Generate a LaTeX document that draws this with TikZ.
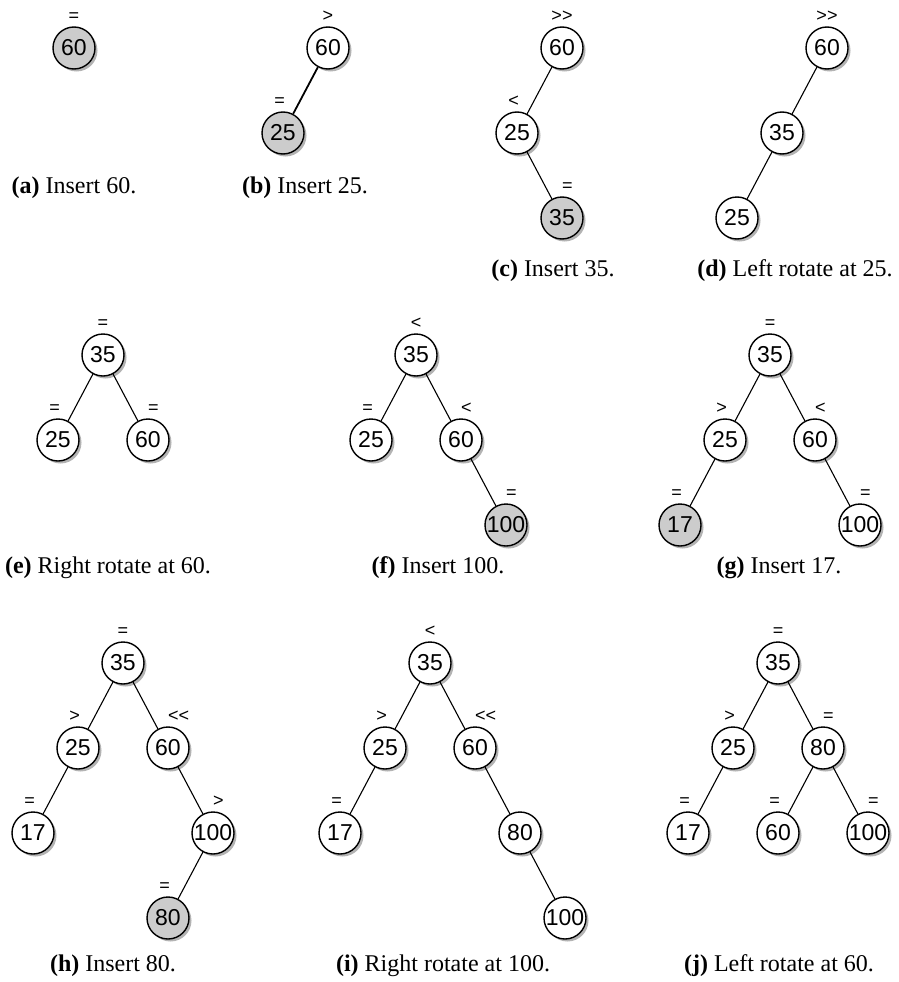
\documentclass[tikz,border=0pt]{standalone}
\usepackage{fontspec}
\setmainfont{Liberation Serif}
\setsansfont{Liberation Sans}
\usetikzlibrary{positioning}
\usetikzlibrary{shadows}

\tikzset{
  bnode/.style={circle, draw, line width=1.4pt, fill=white, minimum size=42pt, inner sep=0pt,
    font=\fontsize{23}{23}\sffamily,
    drop shadow={shadow xshift=2.5pt, shadow yshift=-2.5pt, opacity=0.6}},
  newnode/.style={bnode, fill=gray!40},
  link/.style={line width=1.1pt},
  bal/.style={inner sep=0pt, font=\fontsize{18}{18}\sffamily},
  balroot/.style={bal, anchor=base},
  balleft/.style={bal, anchor=base east},
  balright/.style={bal, anchor=base west},
  subcap/.style={inner sep=0pt, font=\fontsize{24}{24}\selectfont}
}
\newcommand{\gtgt}{>\kern0pt>}
\newcommand{\ltlt}{<\kern0pt<}

\begin{document}
\begin{tikzpicture}[x=1pt, y=-1pt, on grid]
  \def\dy{85pt}
  \def\dx{45pt}
  \useasboundingbox (0,0) rectangle (899,982);

  % (a)
  \node[newnode] (a60) at (74,48) {60};
  \node[balroot] (a60b) at ([yshift=5pt]a60.north) {=};
  \node[subcap] (capa) at (74,188) {\textbf{(a)} Insert 60.};

  % (b)
  \node[bnode] (b60) at (328,48) {60};
  \node[newnode, below left=\dy and \dx of b60] (b25) {25};
  \draw[link, line width=1.8pt] (b60) -- (b25);
  \node[balroot] (b60b) at ([yshift=5pt]b60.north) {>};
  \node[balleft] (b25b) at ([xshift=2pt,yshift=5pt]b25.north) {=};
  \node[subcap] (capb) at (305,188) {\textbf{(b)} Insert 25.};

  % (c)
  \node[bnode] (c60) at (562,48) {60};
  \node[bnode, below left=\dy and \dx of c60] (c25) {25};
  \node[newnode, below right=\dy and \dx of c25] (c35) {35};
  \draw[link] (c60) -- (c25);
  \draw[link] (c25) -- (c35);
  \node[balroot] (c60b) at ([yshift=5pt]c60.north) {\gtgt};
  \node[balleft] (c25b) at ([xshift=2pt,yshift=5pt]c25.north) {<};
  \node[balright] (c35b) at ([yshift=5pt]c35.north) {=};
  \node[subcap] (capc) at (553,271) {\textbf{(c)} Insert 35.};

  % (d)
  \node[bnode] (d60) at (827,48) {60};
  \node[bnode, below left=\dy and \dx of d60] (d35) {35};
  \node[bnode, below left=\dy and \dx of d35] (d25) {25};
  \draw[link] (d60) -- (d35);
  \draw[link] (d35) -- (d25);
  \node[balroot] (d60b) at ([yshift=5pt]d60.north) {\gtgt};
  \node[subcap] (capd) at (795,271) {\textbf{(d)} Left rotate at 25.};

  % (e)
  \node[bnode] (e35) at (103,355) {35};
  \node[bnode, below left=\dy and \dx of e35] (e25) {25};
  \node[bnode, below right=\dy and \dx of e35] (e60) {60};
  \draw[link] (e35) -- (e25);
  \draw[link] (e35) -- (e60);
  \node[balroot] (e35b) at ([yshift=5pt]e35.north) {=};
  \node[balleft] (e25b) at ([xshift=2pt,yshift=5pt]e25.north) {=};
  \node[balright] (e60b) at ([yshift=5pt]e60.north) {=};
  \node[subcap] (cape) at (108,568) {\textbf{(e)} Right rotate at 60.};

  % (f)
  \node[bnode] (f35) at (416,355) {35};
  \node[bnode, below left=\dy and \dx of f35] (f25) {25};
  \node[bnode, below right=\dy and \dx of f35] (f60) {60};
  \node[newnode, below right=\dy and \dx of f60] (f100) {100};
  \draw[link] (f35) -- (f25);
  \draw[link] (f35) -- (f60);
  \draw[link] (f60) -- (f100);
  \node[balroot] (f35b) at ([yshift=5pt]f35.north) {<};
  \node[balleft] (f25b) at ([xshift=2pt,yshift=5pt]f25.north) {=};
  \node[balright] (f60b) at ([yshift=5pt]f60.north) {<};
  \node[balright] (f100b) at ([yshift=5pt]f100.north) {=};
  \node[subcap] (capf) at (438,568) {\textbf{(f)} Insert 100.};

  % (g)
  \node[bnode] (g35) at (770,355) {35};
  \node[bnode, below left=\dy and \dx of g35] (g25) {25};
  \node[bnode, below right=\dy and \dx of g35] (g60) {60};
  \node[newnode, below left=\dy and \dx of g25] (g17) {17};
  \node[bnode, below right=\dy and \dx of g60] (g100) {100};
  \draw[link] (g35) -- (g25);
  \draw[link] (g35) -- (g60);
  \draw[link] (g25) -- (g17);
  \draw[link] (g60) -- (g100);
  \node[balroot] (g35b) at ([yshift=5pt]g35.north) {=};
  \node[balleft] (g25b) at ([xshift=2pt,yshift=5pt]g25.north) {>};
  \node[balright] (g60b) at ([yshift=5pt]g60.north) {<};
  \node[balleft] (g17b) at ([xshift=2pt,yshift=5pt]g17.north) {=};
  \node[balright] (g100b) at ([yshift=5pt]g100.north) {=};
  \node[subcap] (capg) at (779,568) {\textbf{(g)} Insert 17.};

  % (h)
  \node[bnode] (h35) at (123,663) {35};
  \node[bnode, below left=\dy and \dx of h35] (h25) {25};
  \node[bnode, below right=\dy and \dx of h35] (h60) {60};
  \node[bnode, below left=\dy and \dx of h25] (h17) {17};
  \node[bnode, below right=\dy and \dx of h60] (h100) {100};
  \node[newnode, below left=\dy and \dx of h100] (h80) {80};
  \draw[link] (h35) -- (h25);
  \draw[link] (h35) -- (h60);
  \draw[link] (h25) -- (h17);
  \draw[link] (h60) -- (h100);
  \draw[link] (h100) -- (h80);
  \node[balroot] (h35b) at ([yshift=5pt]h35.north) {=};
  \node[balleft] (h25b) at ([xshift=2pt,yshift=5pt]h25.north) {>};
  \node[balright] (h60b) at ([yshift=5pt]h60.north) {\ltlt};
  \node[balleft] (h17b) at ([xshift=2pt,yshift=5pt]h17.north) {=};
  \node[balright] (h100b) at ([yshift=5pt]h100.north) {>};
  \node[balleft] (h80b) at ([xshift=2pt,yshift=5pt]h80.north) {=};
  \node[subcap] (caph) at (113,966) {\textbf{(h)} Insert 80.};

  % (i)
  \node[bnode] (i35) at (430,663) {35};
  \node[bnode, below left=\dy and \dx of i35] (i25) {25};
  \node[bnode, below right=\dy and \dx of i35] (i60) {60};
  \node[bnode, below left=\dy and \dx of i25] (i17) {17};
  \node[bnode, below right=\dy and \dx of i60] (i80) {80};
  \node[bnode, below right=\dy and \dx of i80] (i100) {100};
  \draw[link] (i35) -- (i25);
  \draw[link] (i35) -- (i60);
  \draw[link] (i25) -- (i17);
  \draw[link] (i60) -- (i80);
  \draw[link] (i80) -- (i100);
  \node[balroot] (i35b) at ([yshift=5pt]i35.north) {<};
  \node[balleft] (i25b) at ([xshift=2pt,yshift=5pt]i25.north) {>};
  \node[balright] (i60b) at ([yshift=5pt]i60.north) {\ltlt};
  \node[balleft] (i17b) at ([xshift=2pt,yshift=5pt]i17.north) {=};
  \node[subcap] (capi) at (443,966) {\textbf{(i)} Right rotate at 100.};

  % (j)
  \node[bnode] (j35) at (778,663) {35};
  \node[bnode, below left=\dy and \dx of j35] (j25) {25};
  \node[bnode, below right=\dy and \dx of j35] (j80) {80};
  \node[bnode, below left=\dy and \dx of j25] (j17) {17};
  \node[bnode, below left=\dy and \dx of j80] (j60) {60};
  \node[bnode, below right=\dy and \dx of j80] (j100) {100};
  \draw[link] (j35) -- (j25);
  \draw[link] (j35) -- (j80);
  \draw[link] (j25) -- (j17);
  \draw[link] (j80) -- (j60);
  \draw[link] (j80) -- (j100);
  \node[balroot] (j35b) at ([yshift=5pt]j35.north) {=};
  \node[balleft] (j25b) at ([xshift=2pt,yshift=5pt]j25.north) {>};
  \node[balright] (j80b) at ([yshift=5pt]j80.north) {=};
  \node[balleft] (j17b) at ([xshift=2pt,yshift=5pt]j17.north) {=};
  \node[balleft] (j60b) at ([xshift=2pt,yshift=5pt]j60.north) {=};
  \node[balright] (j100b) at ([yshift=5pt]j100.north) {=};
  \node[subcap] (capj) at (779,966) {\textbf{(j)} Left rotate at 60.};

\end{tikzpicture}
\end{document}
